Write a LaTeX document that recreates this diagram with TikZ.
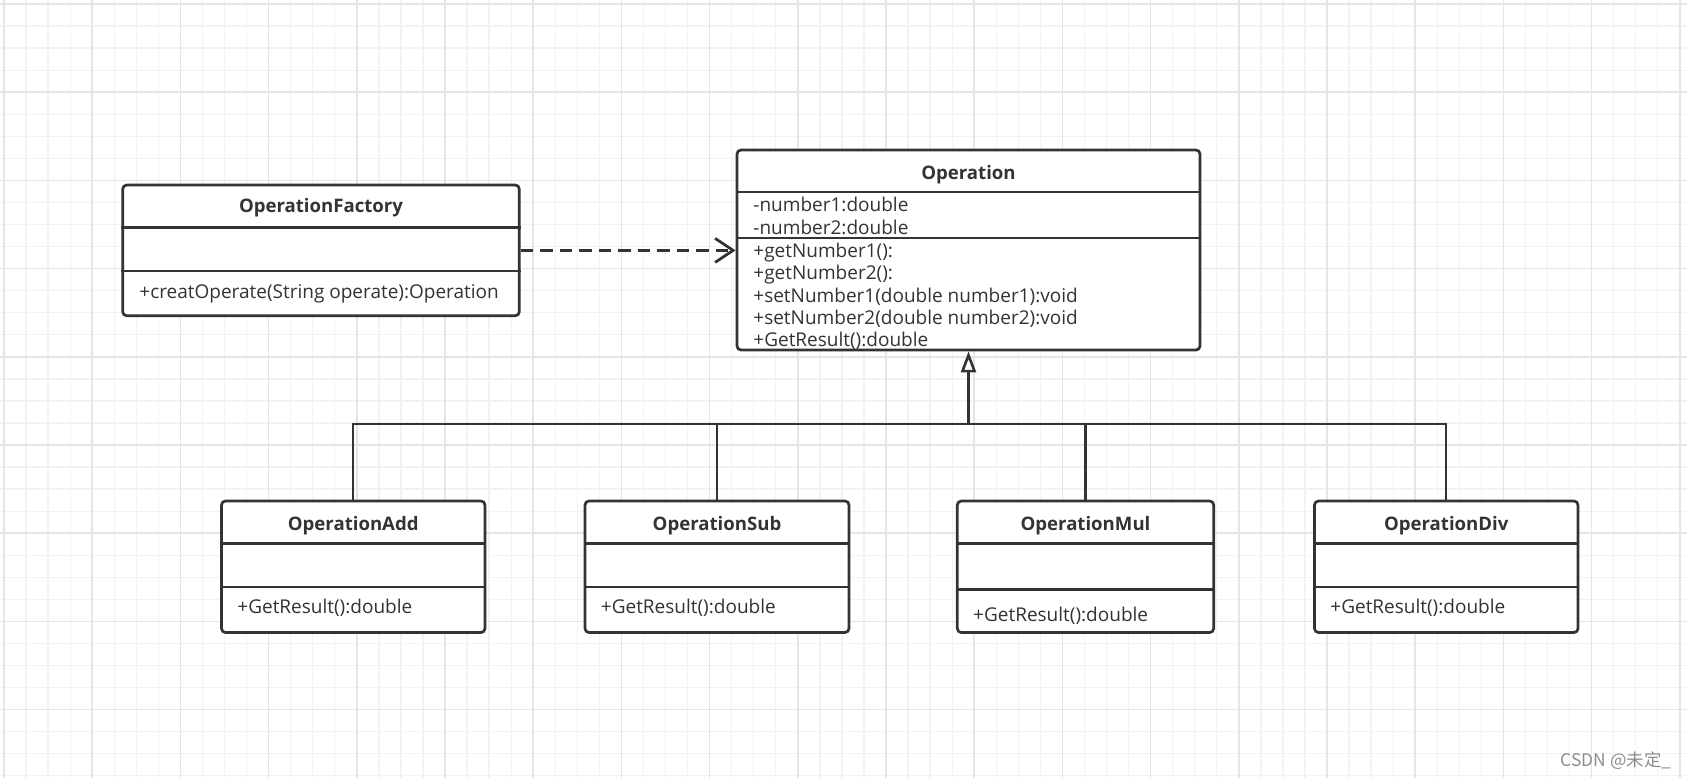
\documentclass[tikz,border=0pt]{standalone}
\usepackage{fontspec}
\setmainfont{Open Sans}
\newfontfamily\cjkfont{Noto Sans CJK SC}
\usetikzlibrary{arrows.meta,fit}

\definecolor{linec}{HTML}{333333}
\definecolor{gridminor}{HTML}{F2F2F2}
\definecolor{gridmajor}{HTML}{E5E5E5}
\definecolor{markc}{HTML}{8C8C8C}

\tikzset{
  classbox/.style={draw=linec, line width=1.35pt, rounded corners=2pt, fill=white, inner sep=0pt},
  divider/.style={linec, line width=1.2pt},
  title/.style={font=\fontsize{9.3}{11}\selectfont\bfseries, text=linec, anchor=base, inner sep=0pt},
  member/.style={font=\fontsize{9.5}{11}\selectfont, text=linec, anchor=base west, inner sep=0pt},
  depends/.style={linec, line width=1.4pt, dash pattern=on 6.25pt off 3.5pt,
    -{Straight Barb[length=9pt,width=12pt]}},
  genline/.style={linec, line width=1.1pt},
  gen/.style={linec, line width=1.6pt, -{Triangle[length=10.5pt,width=7.5pt,fill=white,line width=1.3pt]}}
}

\begin{document}
\begin{tikzpicture}[x=0.5pt, y=-0.5pt]
  \useasboundingbox (0,0) rectangle (1687,778);
  % paper grid
  \begin{scope}[shift={(4,4)}]
    \draw[gridminor, line width=0.65pt, step=11.025pt] (-4,-4) grid (1683,774);
    \draw[gridmajor, line width=0.85pt, step=44.1pt] (-4,-4) grid (1683,774);
  \end{scope}

  % factory
  \node[classbox, fit={(122.7,185) (519.3,315.7)}] (factory) {};
  \draw[divider] (factory.west |- 0,227.3) -- (factory.east |- 0,227.3)
                 (factory.west |- 0,270.7) -- (factory.east |- 0,270.7);
  \node[title] (factory-title) at (321,212.3) {OperationFactory};
  \node[member] (factory-m1) at (139,298.3) {+creatOperate(String operate):Operation};

  % base class
  \node[classbox, fit={(737,150) (1200,350)}] (op) {};
  \draw[divider] (op.west |- 0,192) -- (op.east |- 0,192)
                 (op.west |- 0,238) -- (op.east |- 0,238);
  \node[title] (op-title) at (968.5,179) {Operation};
  \node[member] (op-a1) at (753,211.7) {-number1:double};
  \node[member] (op-a2) at (753,234.3) {-number2:double};
  \node[member] (op-m1) at (753,257.3) {+getNumber1():};
  \node[member] (op-m2) at (753,279.7) {+getNumber2():};
  \node[member] (op-m3) at (753,302.1) {+setNumber1(double number1):void};
  \node[member] (op-m4) at (753,324.5) {+setNumber2(double number2):void};
  \node[member] (op-m5) at (753,346.9) {+GetResult():double};

  % subclasses
  \foreach \nm/\cls/\xa/\xb/\dv/\mb in {add/OperationAdd/221.5/485/586.7/613.3,
      sub/OperationSub/585/849/586.7/613.3, mul/OperationMul/957.3/1213.7/589.3/621.7,
      div/OperationDiv/1314.5/1578/586.7/613.3}{
    \node[classbox, fit={(\xa,501) (\xb,632.5)}] (\nm) {};
    \draw[divider] (\nm.west |- 0,543.3) -- (\nm.east |- 0,543.3)
                   (\nm.west |- 0,\dv) -- (\nm.east |- 0,\dv);
    \node[title] (\nm-title) at ({(\xa+\xb)/2},530) {\cls};
    \node[member] (\nm-m1) at (\xa+15.5,\mb) {+GetResult():double};
  }

  % connectors
  \draw[depends] (factory) -- (factory -| op.west);
  \coordinate (fork) at (op.south |- 0,424);
  \foreach \nm in {add,sub,mul,div}
    \draw[genline] (\nm) |- (fork);
  \draw[gen] (fork) -- (op);

  \node[font=\cjkfont\fontsize{8.7}{10}\selectfont, text=markc, anchor=base east, inner sep=0pt]
    (mark) at (1671.7,766) {CSDN @未定\_};
\end{tikzpicture}
\end{document}
